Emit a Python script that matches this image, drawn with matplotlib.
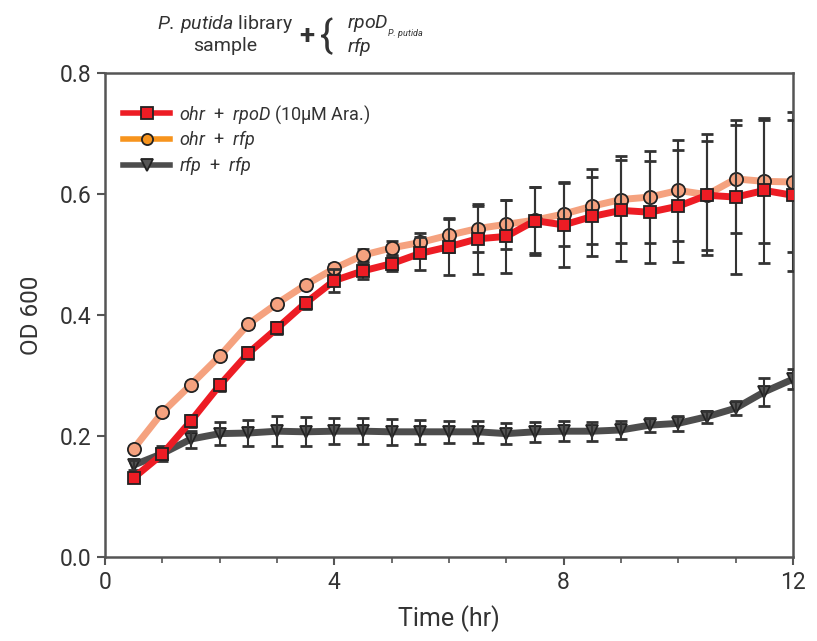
import matplotlib
matplotlib.use("Agg")
import matplotlib.pyplot as plt
from matplotlib.lines import Line2D

plt.rcParams['font.family'] = ['Roboto', 'DejaVu Sans']
plt.rcParams['mathtext.fontset'] = 'custom'
plt.rcParams['mathtext.rm'] = 'Roboto'
plt.rcParams['mathtext.it'] = 'Roboto:italic'

time_hr = [0.5, 1.0, 1.5, 2.0, 2.5, 3.0, 3.5, 4.0, 4.5, 5.0, 5.5, 6.0,
           6.5, 7.0, 7.5, 8.0, 8.5, 9.0, 9.5, 10.0, 10.5, 11.0, 11.5, 12.0]

ohr_rpoD = [0.131, 0.170, 0.225, 0.284, 0.337, 0.378, 0.420, 0.457, 0.473, 0.485, 0.502, 0.513,
            0.526, 0.530, 0.556, 0.549, 0.563, 0.573, 0.570, 0.580, 0.598, 0.595, 0.606, 0.598]
ohr_rpoD_err = [0.005, 0.008, 0.010, 0.010, 0.010, 0.010, 0.010, 0.019, 0.013, 0.012, 0.027, 0.046,
                0.058, 0.060, 0.056, 0.070, 0.066, 0.083, 0.084, 0.093, 0.090, 0.127, 0.120, 0.125]

ohr_rfp = [0.179, 0.239, 0.285, 0.332, 0.385, 0.419, 0.450, 0.477, 0.499, 0.511, 0.520, 0.532,
           0.543, 0.550, 0.557, 0.567, 0.580, 0.591, 0.595, 0.606, 0.599, 0.625, 0.621, 0.620]
ohr_rfp_err = [0.003, 0.004, 0.005, 0.005, 0.005, 0.006, 0.006, 0.008, 0.010, 0.012, 0.015, 0.028,
               0.038, 0.041, 0.055, 0.053, 0.062, 0.072, 0.076, 0.083, 0.100, 0.089, 0.102, 0.116]

rfp_rfp = [0.152, 0.171, 0.195, 0.204, 0.205, 0.208, 0.207, 0.208, 0.208, 0.207, 0.207, 0.207,
           0.207, 0.204, 0.207, 0.208, 0.208, 0.210, 0.218, 0.221, 0.232, 0.246, 0.273, 0.294]
rfp_rfp_err = [0.008, 0.012, 0.014, 0.019, 0.021, 0.025, 0.024, 0.021, 0.021, 0.021, 0.020, 0.018,
               0.018, 0.017, 0.017, 0.017, 0.016, 0.015, 0.012, 0.012, 0.010, 0.012, 0.023, 0.017]

labels = [r'$\it{ohr}$  +  $\it{rpoD}$ (10μM Ara.)',
          r'$\it{ohr}$  +  $\it{rfp}$',
          r'$\it{rfp}$  +  $\it{rfp}$']

RED = '#ED1C24'
SALMON = '#F5A27F'
ORANGE = '#F7941D'
GRAY = '#4D4D4D'
EDGE = '#222222'
ERR = '#333333'

fig = plt.figure(figsize=(8.17, 6.41), dpi=100)
ax = fig.add_axes([0.1285, 0.131, 0.8421, 0.755])

ax.plot(time_hr, rfp_rfp, color=GRAY, lw=5, marker='v', ms=9, mfc='#555555',
        mec=EDGE, mew=1.3, zorder=2)
ax.errorbar(time_hr, ohr_rfp, yerr=ohr_rfp_err, fmt='none', ecolor=ERR, elinewidth=1.5,
            capsize=4, capthick=2.0, zorder=1.9)
ax.plot(time_hr, ohr_rfp, color=SALMON, lw=5, marker='o', ms=9.5, mfc=SALMON,
        mec=EDGE, mew=1.3, zorder=2)
for y, e in [(rfp_rfp, rfp_rfp_err), (ohr_rpoD, ohr_rpoD_err)]:
    ax.errorbar(time_hr, y, yerr=e, fmt='none', ecolor=ERR, elinewidth=1.5,
                capsize=4, capthick=2.0, zorder=3)
ax.plot(time_hr, ohr_rpoD, color=RED, lw=5, marker='s', ms=8.5, mfc=RED,
        mec=EDGE, mew=1.3, zorder=4)

ax.set_xlim(0, 12)
ax.set_ylim(0, 0.8)
ax.set_xticks([0, 4, 8, 12])
ax.set_xticks(range(0, 13), minor=True)
ax.set_yticks([0.0, 0.2, 0.4, 0.6, 0.8])
ax.set_yticklabels(['0.0', '0.2', '0.4', '0.6', '0.8'])
for s in ax.spines.values():
    s.set_color('#555555')
    s.set_linewidth(1.8)
ax.tick_params(axis='both', which='major', direction='out', length=6, width=1.5,
               color='#555555', labelsize=16.5, labelcolor='#333333', pad=4)
ax.tick_params(axis='x', which='minor', direction='out', length=4, width=1.2, color='#555555')
ax.set_xlabel('Time (hr)', fontsize=18, color='#333333', labelpad=8)
ax.set_ylabel('OD 600', fontsize=17.5, color='#333333', labelpad=12)

handles = [
    Line2D([], [], color=RED, lw=4, marker='s', ms=8, mfc=RED, mec=EDGE, mew=1.3),
    Line2D([], [], color=ORANGE, lw=4, marker='o', ms=8, mfc=ORANGE, mec=EDGE, mew=1.3),
    Line2D([], [], color=GRAY, lw=4, marker='v', ms=8, mfc='#555555', mec=EDGE, mew=1.3),
]
leg = ax.legend(handles, labels, loc='upper left', bbox_to_anchor=(0.0, 0.975),
                frameon=False, fontsize=13, handlelength=2.6, handletextpad=0.5,
                labelspacing=0.15, borderaxespad=0.6)
for t in leg.get_texts():
    t.set_color('#333333')

fig.text(0.276, 0.963, r'$\it{P.\,putida}$ library', ha='center', va='center',
         fontsize=14, color='#333333')
fig.text(0.276, 0.928, 'sample', ha='center', va='center', fontsize=14, color='#333333')
fig.text(0.376, 0.943, '+', ha='center', va='center', fontsize=20, color='#333333',
         fontweight='bold')
fig.text(0.399, 0.941, '{', ha='center', va='center', fontsize=28, color='#333333')
fig.text(0.425, 0.963, r'$\it{rpoD}$', ha='left', va='center', fontsize=14, color='#333333')
fig.text(0.474, 0.947, r'$\it{P.\,putida}$', ha='left', va='center', fontsize=6.5, color='#333333')
fig.text(0.425, 0.928, r'$\it{rfp}$', ha='left', va='center', fontsize=14, color='#333333')

fig.savefig('out.png', dpi=100)
